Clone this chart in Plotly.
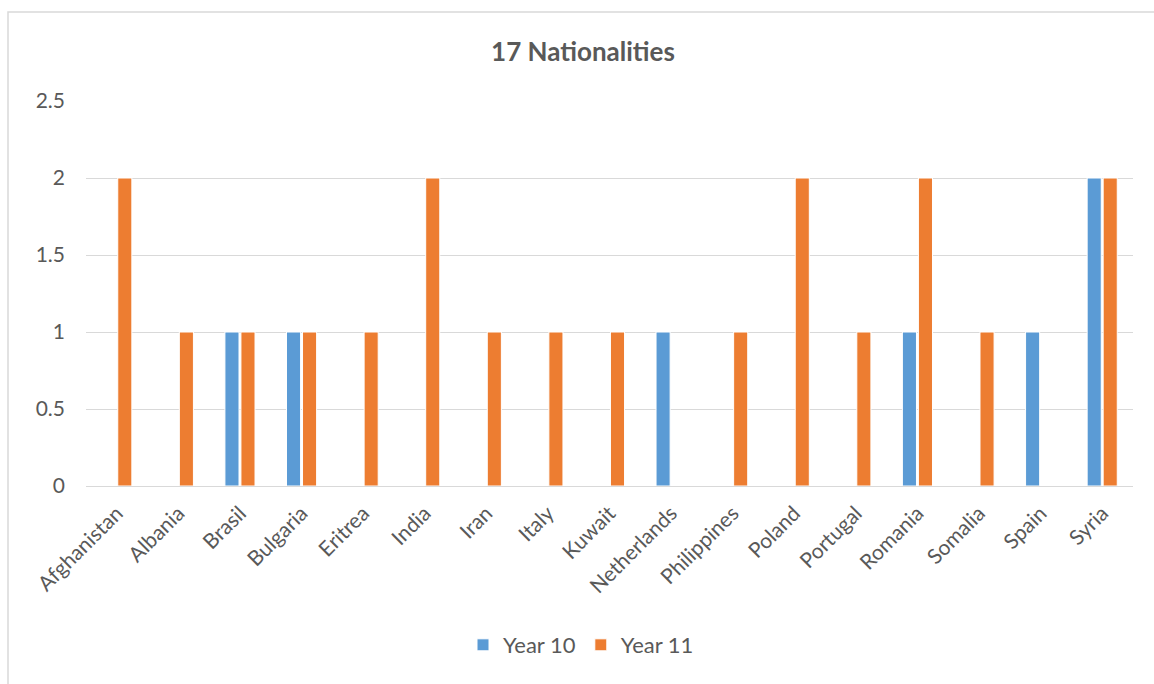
import plotly.graph_objects as go

categories = ["Afghanistan", "Albania", "Brasil", "Bulgaria", "Eritrea", "India", "Iran",
              "Italy", "Kuwait", "Netherlands", "Philippines", "Poland", "Portugal",
              "Romania", "Somalia", "Spain", "Syria"]
year10 = [None, None, 1, 1, None, None, None, None, None, 1, None, None, None, 1, None, 1, 2]
year11 = [2, 1, 1, 1, 1, 2, 1, 1, 1, None, 1, 2, 1, 2, 1, None, 2]
y_ticks = [0, 0.5, 1, 1.5, 2, 2.5]
y_tick_text = ["0", "0.5", "1", "1.5", "2", "2.5"]

FONT = "Lato, 'Open Sans', sans-serif"
GRAY = "#595959"

fig = go.Figure()
fig.add_trace(go.Bar(name="Year 10", x=categories, y=year10,
                     marker=dict(color="#5B9BD5", line=dict(color="white", width=1))))
fig.add_trace(go.Bar(name="Year 11", x=categories, y=year11,
                     marker=dict(color="#ED7D31", line=dict(color="white", width=1))))

L, R, T, B = 86, 21, 101, 198
pw = 1154 - L - R
ph = 684 - T - B

fig.update_layout(
    width=1154, height=684,
    margin=dict(l=L, r=R, t=T, b=B, autoexpand=False),
    paper_bgcolor="white", plot_bgcolor="white",
    barmode="group", bargap=0.48, bargroupgap=0.12,
    font=dict(family=FONT, color=GRAY, size=21),
    title=dict(text="<b>17 Nationalities</b>", font=dict(size=26, color=GRAY, family=FONT),
               x=(583 - L) / pw, xref="paper", xanchor="center",
               y=1 - 52 / 684, yref="container", yanchor="middle"),
    xaxis=dict(tickangle=-45, showgrid=False, showline=False, ticks="",
               tickfont=dict(size=21, color=GRAY), ticklabelstandoff=10),
    yaxis=dict(range=[0, 2.5], tickvals=y_ticks, ticktext=y_tick_text,
               showgrid=True, gridcolor="#D9D9D9", gridwidth=1,
               zeroline=True, zerolinecolor="#D9D9D9", zerolinewidth=1,
               showline=False, ticks="", ticklabelstandoff=20,
               tickfont=dict(size=21, color=GRAY)),
    legend=dict(orientation="h", x=(581 - L) / pw, xanchor="center",
                y=(486 - 645) / ph, yanchor="middle",
                font=dict(size=22, color=GRAY), traceorder="normal"),
    shapes=[dict(type="rect", xref="paper", yref="paper",
                 x0=(8 - L) / pw, x1=1.1, y0=-0.7, y1=(486 - 12) / ph,
                 line=dict(color="#D9D9D9", width=1.5), fillcolor="rgba(0,0,0,0)", layer="below")],
)

fig.write_html("out.html")
